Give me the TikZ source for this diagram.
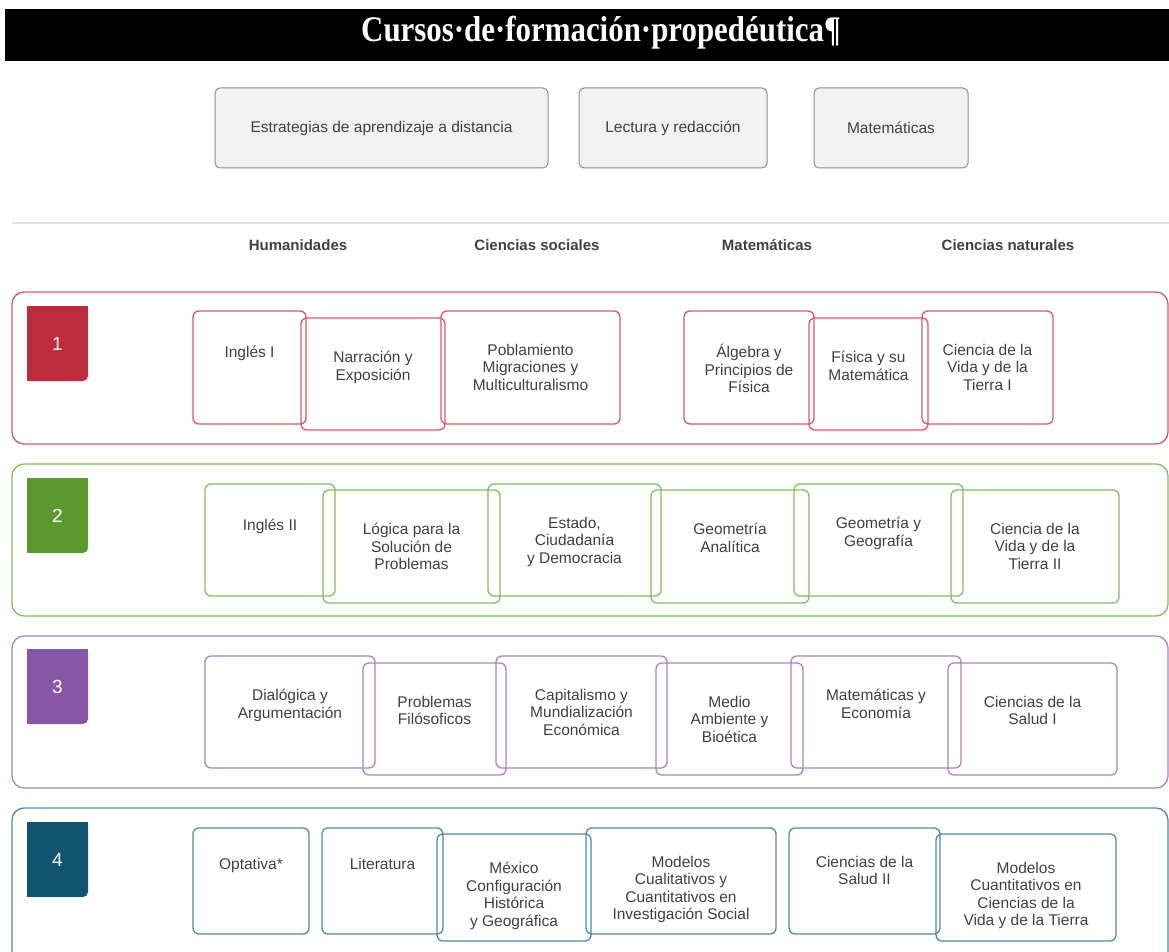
\documentclass[tikz,border=0pt]{standalone}
\usepackage{fontspec}
\setmainfont{Liberation Sans}
\newfontfamily\serifa{Liberation Serif}
\usetikzlibrary{positioning}

\definecolor{rojofondo}{HTML}{BE2A3E}
\definecolor{rojolinea}{HTML}{D9566A}
\definecolor{verdefondo}{HTML}{5B992F}
\definecolor{verdelinea}{HTML}{82BC5E}
\definecolor{moradofondo}{HTML}{8757A6}
\definecolor{moradolinea}{HTML}{A983C3}
\definecolor{azulfondo}{HTML}{10546F}
\definecolor{azullinea}{HTML}{4E8AA5}
\definecolor{gristexto}{HTML}{404040}
\definecolor{grisborde}{HTML}{8C8C8C}
\definecolor{grisfondo}{HTML}{F1F1F1}
\definecolor{grislinea}{HTML}{E2E2E2}

\tikzset{
  caja/.style={draw, rounded corners=6pt, line width=1.3pt, inner sep=0pt, outer sep=0pt},
  cajagris/.style={draw=grisborde, fill=grisfondo, rounded corners=5pt, line width=1pt,
    inner sep=0pt, minimum height=80pt, text=gristexto, font=\fontsize{15.5}{17.5}\selectfont},
  banda/.style={rounded corners=12pt, line width=1.3pt},
  texto/.style={font=\fontsize{15.5}{17.5}\selectfont, text=gristexto, align=center, anchor=north,
    inner sep=0pt, execute at begin node=\vphantom{Á}},
  encabezado/.style={font=\bfseries\fontsize{15}{17}\selectfont, text=gristexto, anchor=base, inner sep=0pt},
  numero/.style={font=\fontsize{19}{21}\selectfont, text=white, inner sep=0pt}
}

\begin{document}
\begin{tikzpicture}[x=1pt,y=-1pt]
  \useasboundingbox (0,0) rectangle (1169,952);

  %barra de titulo
  \fill[black] (5,9) rectangle (1169,61);
  \node[font=\serifa\bfseries\fontsize{30}{32}\selectfont, text=white, inner sep=0pt] (titulo) at (601,33)
    {\scalebox{1.03}[1.2]{Cursos·de·formación·propedéutica¶}};

  %cursos propedeuticos
  \node[cajagris, minimum width=333pt] (p1) at (381.5,128) {Estrategias de aprendizaje a distancia};
  \node[cajagris, minimum width=188pt] (p2) at (673,128) {Lectura y redacción};
  \node[cajagris, minimum width=154pt] (p3) at (891,128) {Matemáticas};

  %separador y areas
  \draw[grislinea, line width=2pt] (12,223) -- (1169,223);
  \node[encabezado] (h1) at (298,250) {Humanidades};
  \node[encabezado] (h2) at (537,250) {Ciencias sociales};
  \node[encabezado] (h3) at (767,250) {Matemáticas};
  \node[encabezado] (h4) at (1008,250) {Ciencias naturales};

  %semestre 1
  \draw[banda, draw=rojolinea] (12,292) rectangle (1168,444);
  \fill[rojofondo, rounded corners=5pt] (27,306) rectangle (88,381);
  \fill[rojofondo] (27,306) rectangle (80,381);
  \fill[rojofondo] (27,306) rectangle (88,373);
  \node[numero] (s1) at (57.5,343.5) {1};

  \node[caja, draw=rojolinea, minimum width=113pt, minimum height=113pt] (b11) at (249.5,367.5) {};
  \node[caja, draw=rojolinea, minimum width=144pt, minimum height=112pt] (b12) at (373,374) {};
  \node[caja, draw=rojolinea, minimum width=179pt, minimum height=113pt] (b13) at (530.5,367.5) {};
  \node[caja, draw=rojolinea, minimum width=130pt, minimum height=113pt] (b14) at (749,367.5) {};
  \node[caja, draw=rojolinea, minimum width=119pt, minimum height=112pt] (b15) at (868.5,374) {};
  \node[caja, draw=rojolinea, minimum width=131pt, minimum height=113pt] (b16) at (987.5,367.5) {};
  \node[texto] (t11) at ([yshift=-33pt]b11.north) {Inglés I};
  \node[texto] (t12) at ([yshift=-33pt]b12.north) {Narración y\\Exposición};
  \node[texto] (t13) at ([yshift=-33pt]b13.north) {Poblamiento\\Migraciones y\\Multiculturalismo};
  \node[texto] (t14) at ([yshift=-33pt]b14.north) {Álgebra y\\Principios de\\Física};
  \node[texto] (t15) at ([yshift=-33pt]b15.north) {Física y su\\Matemática};
  \node[texto] (t16) at ([yshift=-33pt]b16.north) {Ciencia de la\\Vida y de la\\Tierra I};

  %semestre 2
  \draw[banda, draw=verdelinea] (12,464) rectangle (1168,616);
  \fill[verdefondo, rounded corners=5pt] (27,478) rectangle (88,553);
  \fill[verdefondo] (27,478) rectangle (80,553);
  \fill[verdefondo] (27,478) rectangle (88,545);
  \node[numero] (s2) at (57.5,515.5) {2};

  \node[caja, draw=verdelinea, minimum width=130pt, minimum height=112pt] (b21) at (270,540) {};
  \node[caja, draw=verdelinea, minimum width=177pt, minimum height=113pt] (b22) at (411.5,546.5) {};
  \node[caja, draw=verdelinea, minimum width=173pt, minimum height=112pt] (b23) at (574.5,540) {};
  \node[caja, draw=verdelinea, minimum width=158pt, minimum height=113pt] (b24) at (730,546.5) {};
  \node[caja, draw=verdelinea, minimum width=169pt, minimum height=112pt] (b25) at (878.5,540) {};
  \node[caja, draw=verdelinea, minimum width=168pt, minimum height=113pt] (b26) at (1035,546.5) {};
  \node[texto] (t21) at ([yshift=-33pt]b21.north) {Inglés II};
  \node[texto] (t22) at ([yshift=-33pt]b22.north) {Lógica para la\\Solución de\\Problemas};
  \node[texto] (t23) at ([yshift=-33pt]b23.north) {Estado,\\Ciudadanía\\y Democracia};
  \node[texto] (t24) at ([yshift=-33pt]b24.north) {Geometría\\Analítica};
  \node[texto] (t25) at ([yshift=-33pt]b25.north) {Geometría y\\Geografía};
  \node[texto] (t26) at ([yshift=-33pt]b26.north) {Ciencia de la\\Vida y de la\\Tierra II};

  %semestre 3
  \draw[banda, draw=moradolinea] (12,636) rectangle (1168,788);
  \fill[moradofondo, rounded corners=5pt] (27,649) rectangle (88,724);
  \fill[moradofondo] (27,649) rectangle (80,724);
  \fill[moradofondo] (27,649) rectangle (88,716);
  \node[numero] (s3) at (57.5,686.5) {3};

  \node[caja, draw=moradolinea, minimum width=170pt, minimum height=112pt] (b31) at (290,712) {};
  \node[caja, draw=moradolinea, minimum width=143pt, minimum height=112pt] (b32) at (434.5,719) {};
  \node[caja, draw=moradolinea, minimum width=171pt, minimum height=112pt] (b33) at (581.5,712) {};
  \node[caja, draw=moradolinea, minimum width=147pt, minimum height=112pt] (b34) at (729.5,719) {};
  \node[caja, draw=moradolinea, minimum width=170pt, minimum height=112pt] (b35) at (876,712) {};
  \node[caja, draw=moradolinea, minimum width=169pt, minimum height=112pt] (b36) at (1032.5,719) {};
  \node[texto] (t31) at ([yshift=-33pt]b31.north) {Dialógica y\\Argumentación};
  \node[texto] (t32) at ([yshift=-33pt]b32.north) {Problemas\\Filósoficos};
  \node[texto] (t33) at ([yshift=-33pt]b33.north) {Capitalismo y\\Mundialización\\Económica};
  \node[texto] (t34) at ([yshift=-33pt]b34.north) {Medio\\Ambiente y\\Bioética};
  \node[texto] (t35) at ([yshift=-33pt]b35.north) {Matemáticas y\\Economía};
  \node[texto] (t36) at ([yshift=-33pt]b36.north) {Ciencias de la\\Salud I};

  %semestre 4
  \draw[banda, draw=azullinea] (12,808) rectangle (1168,990);
  \fill[azulfondo, rounded corners=5pt] (27,822) rectangle (88,897);
  \fill[azulfondo] (27,822) rectangle (80,897);
  \fill[azulfondo] (27,822) rectangle (88,889);
  \node[numero] (s4) at (57.5,859.5) {4};

  \node[caja, draw=azullinea, minimum width=116pt, minimum height=106pt] (b41) at (251,881) {};
  \node[caja, draw=azullinea, minimum width=121pt, minimum height=106pt] (b42) at (382.5,881) {};
  \node[caja, draw=azullinea, minimum width=154pt, minimum height=107pt] (b43) at (514,887.5) {};
  \node[caja, draw=azullinea, minimum width=190pt, minimum height=106pt] (b44) at (681,881) {};
  \node[caja, draw=azullinea, minimum width=151pt, minimum height=106pt] (b45) at (864.5,881) {};
  \node[caja, draw=azullinea, minimum width=180pt, minimum height=107pt] (b46) at (1026,887.5) {};
  \node[texto] (t41) at ([yshift=-28pt]b41.north) {Optativa*};
  \node[texto] (t42) at ([yshift=-28pt]b42.north) {Literatura};
  \node[texto] (t43) at ([yshift=-28pt]b43.north) {México\\Configuración\\Histórica\\y Geográfica};
  \node[texto] (t44) at ([yshift=-28pt]b44.north) {Modelos\\Cualitativos y\\Cuantitativos en\\Investigación Social};
  \node[texto] (t45) at ([yshift=-28pt]b45.north) {Ciencias de la\\Salud II};
  \node[texto] (t46) at ([yshift=-28pt]b46.north) {Modelos\\Cuantitativos en\\Ciencias de la\\Vida y de la Tierra};
\end{tikzpicture}
\end{document}
